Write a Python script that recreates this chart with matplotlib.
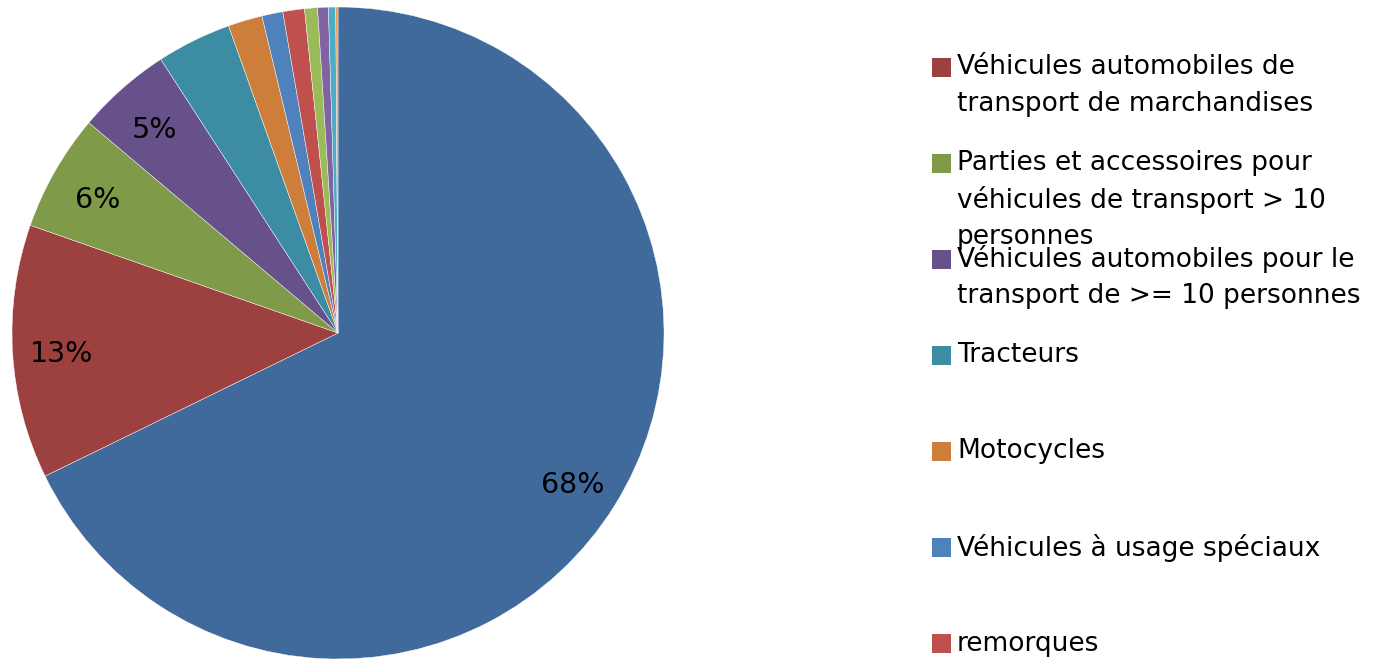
import matplotlib
matplotlib.use("Agg")
import matplotlib.pyplot as plt
from matplotlib.patches import Rectangle

# Shares of each category (%), clockwise from 12 o'clock
categories = [
    "Voitures de tourisme",
    "Véhicules automobiles de\ntransport de marchandises",
    "Parties et accessoires pour\nvéhicules de transport > 10\npersonnes",
    "Véhicules automobiles pour le\ntransport de >= 10 personnes",
    "Tracteurs",
    "Motocycles",
    "Véhicules à usage spéciaux",
    "remorques",
    "Autre 1",
    "Autre 2",
    "Autre 3",
    "Autre 4",
]
shares = [67.8, 12.6, 5.8, 4.7, 3.7, 1.7, 1.04, 1.07, 0.64, 0.53, 0.36, 0.11]
colors = ["#416A9C", "#9C413F", "#7F9A48", "#67518A", "#3C8DA3", "#CD7E3A",
          "#4F81BD", "#C0504D", "#9BBB59", "#8064A2", "#4BACC6", "#F79646"]

# only these entries are visible in the (truncated) legend
legend_idx = [1, 2, 3, 4, 5, 6, 7]

W, H = 1378, 661
fig = plt.figure(figsize=(W / 100, H / 100), dpi=100)

# Pie: centre (338, 333) px, radius 326 px
cx, cy, r = 338, 333, 326
ax = fig.add_axes([(cx - r) / W, (H - cy - r) / H, 2 * r / W, 2 * r / H])
wedges, texts, autotexts = ax.pie(
    shares, colors=colors, startangle=90, counterclock=False, radius=1,
    autopct=lambda p: f"{p:.0f}%" if p > 4.5 else "", pctdistance=0.85,
    wedgeprops=dict(edgecolor="white", linewidth=0.3),
    textprops=dict(fontsize=20.5, color="black"))
# Excel puts its labels a touch lower than matplotlib
for t in autotexts:
    x, y = t.get_position()
    t.set_position((x, y - 0.015))
ax.set_xlim(-1, 1)
ax.set_ylim(-1, 1)
ax.set_aspect("equal")
ax.axis("off")

# Legend drawn by hand (Excel style: fixed spacing, text may overflow)
y_first = 67
step = 96.1
line_h = 37
for k, i in enumerate(legend_idx):
    y = y_first + k * step
    fig.patches.append(Rectangle(((932) / W, 1 - (y + 9.5) / H), 19 / W, 19 / H,
                                 transform=fig.transFigure, facecolor=colors[i],
                                 edgecolor="none"))
    for j, line in enumerate(categories[i].split("\n")):
        fig.text(957 / W, 1 - (y + j * line_h) / H, line, fontsize=19,
                 va="center", ha="left", color="black")

fig.savefig("out.png", dpi=100)
